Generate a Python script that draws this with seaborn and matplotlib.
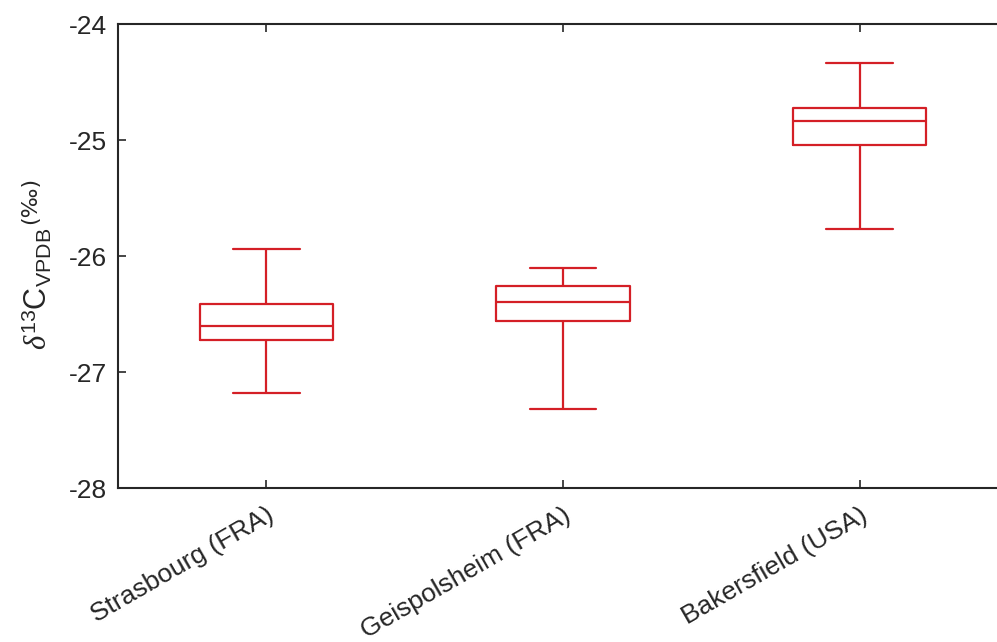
import numpy as np
import pandas as pd
import matplotlib
matplotlib.use("Agg")
import matplotlib.pyplot as plt
import matplotlib.transforms as mtransforms
import seaborn as sns

# Sampling sites and the five-number summary of δ13C for each (‰ VPDB)
sites = ["Strasbourg (FRA)", "Geispolsheim (FRA)", "Bakersfield (USA)"]
whisker_low = [-27.18, -27.32, -25.77]
quartile_1 = [-26.72, -26.56, -25.04]
medians = [-26.60, -26.40, -24.84]
quartile_3 = [-26.41, -26.26, -24.72]
whisker_high = [-25.94, -26.10, -24.34]

y_ticks = [-28, -27, -26, -25, -24]

rows = []
for i, site in enumerate(sites):
    for v in (whisker_low[i], quartile_1[i], medians[i], quartile_3[i], whisker_high[i]):
        rows.append({"site": site, "d13C": v})
df = pd.DataFrame(rows)

sns.set_theme(style="white")
plt.rcParams["font.family"] = ["Liberation Sans", "DejaVu Sans"]
plt.rcParams["axes.unicode_minus"] = False
plt.rcParams["mathtext.fontset"] = "custom"
plt.rcParams["mathtext.rm"] = "Liberation Sans"
plt.rcParams["mathtext.sf"] = "Liberation Sans"
plt.rcParams["mathtext.it"] = "Liberation Serif:italic"

red = "#d41f26"
spine_color = "#262626"
text_color = "#262626"

W, H = 997, 642
fig = plt.figure(figsize=(W / 100, H / 100), dpi=100)
ax = fig.add_axes([118 / W, 1 - 488 / H, 890 / W, 464 / H])

sns.boxplot(
    data=df, x="site", y="d13C", order=sites,
    whis=(0, 100), fill=False, color=red, linecolor=red,
    width=0.45, linewidth=1.6, ax=ax,
)

ax.set_xlim(-0.5, 2.5)
ax.set_ylim(-28, -24)
ax.set_yticks(y_ticks)
ax.set_yticklabels([str(t) for t in y_ticks])
ax.set_xticks(range(len(sites)))
ax.set_xticklabels(sites, rotation=30, ha="right", va="center",
                   rotation_mode="anchor")

for side in ["left", "right", "top", "bottom"]:
    ax.spines[side].set_visible(True)
    ax.spines[side].set_color(spine_color)
    ax.spines[side].set_linewidth(1.5)

ax.tick_params(axis="both", which="major", direction="in", length=6,
               width=1.2, color=spine_color, labelsize=19,
               labelcolor=text_color, top=True, right=True,
               bottom=True, left=True)
ax.tick_params(axis="y", pad=8)
ax.tick_params(axis="x", pad=14)

# nudge the slanted site names slightly right and down
shift = mtransforms.ScaledTranslation(6 / 100, -6 / 100, fig.dpi_scale_trans)
for tick in ax.xaxis.get_major_ticks():
    tick.label1.set_transform(tick.label1.get_transform() + shift)

ax.set_xlabel("")
ax.set_ylabel("")

# y-axis title: δ13C_VPDB followed by a raised (‰)
ylab = fig.text(37 / W, 1 - 350 / H,
                r"$\delta^{\mathsf{13}}\mathsf{C}_{\mathsf{VPDB}}$",
                rotation=90, ha="center", va="bottom",
                fontsize=22, color=text_color)
fig.canvas.draw()
bb = ylab.get_window_extent()
fig.text(20 / W, (bb.y1 + 4) / H, "(‰)", rotation=90, ha="left",
         va="bottom", fontsize=16, color=text_color,
         family=["DejaVu Sans"])

fig.savefig("out.png", dpi=100)
